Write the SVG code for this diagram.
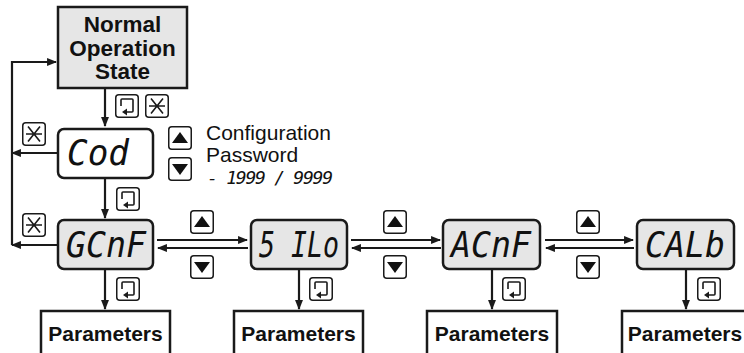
<svg xmlns="http://www.w3.org/2000/svg" width="744" height="353" viewBox="0 0 744 353">
<defs>
<style>
.box{fill:#e6e6e6;stroke:#1a1a1a;stroke-width:2.5}
.wbox{fill:#fff;stroke:#1a1a1a;stroke-width:2.5}
.par{fill:#fff;stroke:#1a1a1a;stroke-width:2.5}
.ttl{font-family:"Liberation Sans",Arial,sans-serif;font-weight:bold;font-size:21px;fill:#111;text-anchor:middle}
.big{font-size:22.5px}
.seg{font-family:"DejaVu Sans Mono",monospace;font-style:italic;font-size:35px;fill:#111}
.lbl{font-family:"Liberation Sans",Arial,sans-serif;font-size:21px;fill:#111}
.dig{font-family:"DejaVu Sans Mono",monospace;font-style:italic;font-size:18px;fill:#111}
.ln{fill:none;stroke:#1a1a1a;stroke-width:2.2}
.ik{fill:#fff;stroke:#1a1a1a;stroke-width:1.5}
.ig{fill:none;stroke:#1a1a1a;stroke-width:1.6}
</style>
<marker id="ah" viewBox="0 0 10 8" refX="9" refY="4" markerWidth="4.5" markerHeight="3.6" orient="auto" markerUnits="strokeWidth">
<path d="M0,0 L10,4 L0,8 Z" fill="#1a1a1a"/>
</marker>
<g id="ienter">
<rect class="ik" x="0.75" y="0.75" width="22.5" height="22.5" rx="3"/>
<path class="ig" d="M6,12 V6 Q6,5 7,5 H17 Q18,5 18,6 V17 Q18,18 17,18 H11"/>
<path d="M7,18 L12,14.5 L12,21.5 Z" fill="#1a1a1a"/>
</g>
<g id="istar">
<rect class="ik" x="0.75" y="0.75" width="22.5" height="22.5" rx="3"/>
<path class="ig" d="M4,12 H20 M6,4.5 L18,19.5 M18,4.5 L6,19.5"/>
</g>
<g id="iup">
<rect class="ik" x="0.75" y="0.75" width="22.5" height="22.5" rx="3"/>
<path d="M4,17 L12,6 L20,17 Z" fill="#111"/>
</g>
<g id="idown">
<rect class="ik" x="0.75" y="0.75" width="22.5" height="22.5" rx="3"/>
<path d="M4,7 L12,18 L20,7 Z" fill="#111"/>
</g>
</defs>
<rect width="744" height="353" fill="#fff"/>

<g id="connectors">
<path class="ln" d="M105,88 V126" marker-end="url(#ah)"/>
<path class="ln" d="M105,178 V218" marker-end="url(#ah)"/>
<path class="ln" d="M58,153 H12" marker-end="url(#ah)"/>
<path class="ln" d="M58,245 H12" marker-end="url(#ah)"/>
<path class="ln" d="M12,245 V62 H56" marker-end="url(#ah)"/>
<path class="ln" d="M105,269 V309" marker-end="url(#ah)"/>
<path class="ln" d="M299,269 V309" marker-end="url(#ah)"/>
<path class="ln" d="M492,269 V309" marker-end="url(#ah)"/>
<path class="ln" d="M686,269 V309" marker-end="url(#ah)"/>
<path class="ln" d="M157,240 H247" marker-end="url(#ah)"/>
<path class="ln" d="M248,248 H158" marker-end="url(#ah)"/>
<path class="ln" d="M351,240 H440" marker-end="url(#ah)"/>
<path class="ln" d="M441,248 H352" marker-end="url(#ah)"/>
<path class="ln" d="M545,240 H633" marker-end="url(#ah)"/>
<path class="ln" d="M634,248 H546" marker-end="url(#ah)"/>
</g>

<g id="icons">
<use href="#ienter" x="115" y="94"/>
<use href="#istar" x="145" y="94"/>
<use href="#istar" x="22" y="122"/>
<use href="#iup" x="168" y="126"/>
<use href="#idown" x="168" y="157"/>
<use href="#ienter" x="116" y="187"/>
<use href="#istar" x="22" y="213"/>
<use href="#iup" x="190" y="210"/>
<use href="#idown" x="190" y="255"/>
<use href="#iup" x="383" y="210"/>
<use href="#idown" x="383" y="255"/>
<use href="#iup" x="576" y="210"/>
<use href="#idown" x="576" y="255"/>
<use href="#ienter" x="116" y="277"/>
<use href="#ienter" x="309" y="277"/>
<use href="#ienter" x="502" y="277"/>
<use href="#ienter" x="697" y="277"/>
</g>

<g id="normal">
<rect class="box" x="58" y="7" width="129" height="81"/>
<text class="ttl big" x="122.5" y="32">Normal</text>
<text class="ttl big" x="122.5" y="56">Operation</text>
<text class="ttl big" x="122.5" y="79">State</text>
</g>

<g id="cod">
<rect class="wbox" x="58" y="129" width="95" height="49" rx="6"/>
<text class="seg" x="67" y="165" textLength="62" lengthAdjust="spacingAndGlyphs">Cod</text>
</g>

<g id="password">
<text class="lbl" x="206" y="140">Configuration</text>
<text class="lbl" x="206" y="162">Password</text>
<text class="dig" x="207" y="184" textLength="126" lengthAdjust="spacing">- 1999 / 9999</text>
</g>

<g id="gcnf">
<rect class="box" x="58" y="220" width="95" height="49" rx="6"/>
<text class="seg" x="66" y="257" textLength="80" lengthAdjust="spacingAndGlyphs">GCnF</text>
</g>
<g id="silo">
<rect class="box" x="251" y="220" width="96" height="49" rx="6"/>
<text class="seg" x="259" y="257" textLength="80" lengthAdjust="spacingAndGlyphs">5 ILo</text>
</g>
<g id="acnf">
<rect class="box" x="443" y="220" width="97" height="49" rx="6"/>
<text class="seg" x="451" y="257" textLength="80" lengthAdjust="spacingAndGlyphs">ACnF</text>
</g>
<g id="calb">
<rect class="box" x="637" y="220" width="97" height="49" rx="6"/>
<text class="seg" x="645" y="257" textLength="80" lengthAdjust="spacingAndGlyphs">CALb</text>
</g>

<g id="par1">
<rect class="par" x="41" y="311" width="129" height="50"/>
<text class="ttl" x="105.5" y="341">Parameters</text>
</g>
<g id="par2">
<rect class="par" x="234" y="311" width="129" height="50"/>
<text class="ttl" x="298.5" y="341">Parameters</text>
</g>
<g id="par3">
<rect class="par" x="427" y="311" width="130" height="50"/>
<text class="ttl" x="492" y="341">Parameters</text>
</g>
<g id="par4">
<rect class="par" x="622" y="311" width="130" height="50"/>
<text class="ttl" x="685" y="341">Parameters</text>
</g>
</svg>
